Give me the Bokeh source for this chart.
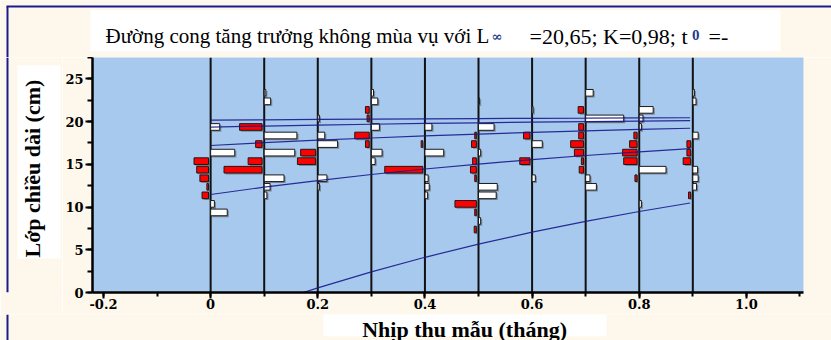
import math
from bokeh.plotting import figure
from bokeh.models import Range1d, FixedTicker
from bokeh.layouts import column, row
from bokeh.embed import file_html
from bokeh.resources import INLINE
from bokeh.core.properties import value

# ---------------- data ----------------
samples = [0.0, 0.1, 0.2, 0.3, 0.4, 0.5, 0.6, 0.7, 0.8, 0.9]
length_classes = [7, 8, 9, 10, 11, 12, 13, 14, 15, 16, 17, 18, 19, 20, 21, 22, 23]

# restructured scores per sample (one value per length class; negative = red, positive = white)
score_s00 = [0, 0, 0.31, 0.07, -0.12, -0.03, -0.16, -0.22, -0.27, 0.45, 0, 0, 0.17, 0, 0, 0, 0]
score_s01 = [0, 0, 0, 0, 0.05, 0.11, 0.37, -0.71, -0.26, 0.57, -0.12, 0.61, -0.42, 0, 0, 0.12, 0.03]
score_s02 = [0, 0, 0, 0, 0, 0.03, 0.17, 0, -0.34, -0.28, 0.37, 0.13, 0, 0.03, 0, 0, 0]
score_s03 = [0, 0, 0, 0, 0, 0, 0, 0, 0.07, 0.20, -0.07, -0.27, 0.15, -0.04, -0.07, 0.12, 0.04]
score_s04 = [0, 0, 0, 0, 0.05, 0.08, 0.06, -0.71, 0, 0.35, -0.03, 0, 0.13, 0, 0, 0, 0]
score_s05 = [-0.04, 0.04, -0.03, -0.40, 0.33, 0.35, -0.03, -0.11, -0.07, 0.04, -0.09, -0.03, 0.29, 0, 0, 0.02, 0]
score_s06 = [0, 0, 0, 0, 0, 0, 0.06, 0, -0.19, 0, 0.19, -0.12, 0, 0, 0.02, 0, 0]
score_s07 = [0, 0, 0, 0, 0, 0.20, 0.08, -0.08, -0.04, -0.17, -0.24, -0.09, -0.09, 0.71, -0.10, 0, 0.14]
score_s08 = [0, 0, 0, 0.04, 0, 0, -0.04, 0.50, -0.25, -0.27, -0.14, -0.06, 0.04, 0.07, 0.26, 0, 0]
score_s09 = [0, 0, 0, 0, -0.04, 0.07, 0.10, 0.09, -0.14, -0.07, -0.07, 0.10, 0, 0, 0, 0.06, 0.03]
all_scores = [score_s00, score_s01, score_s02, score_s03, score_s04,
              score_s05, score_s06, score_s07, score_s08, score_s09]

# growth curves (L_inf = 20.65, K = 0.98)
curve_t = [0.0, 0.1, 0.2, 0.3, 0.4, 0.5, 0.6, 0.7, 0.8, 0.895]
curve_1 = [20.17, 20.21, 20.25, 20.29, 20.32, 20.35, 20.38, 20.40, 20.43, 20.45]
curve_2 = [19.36, 19.48, 19.59, 19.69, 19.78, 19.86, 19.93, 20.00, 20.06, 20.11]
curve_3 = [17.20, 17.53, 17.82, 18.08, 18.32, 18.54, 18.74, 18.92, 19.08, 19.22]
curve_4 = [11.47, 12.33, 13.10, 13.81, 14.45, 15.03, 15.55, 16.03, 16.46, 16.83]
curve_5_t = [0.173, 0.2, 0.3, 0.4, 0.5, 0.6, 0.7, 0.8, 0.895]
curve_5 = [0.0, 0.54, 2.42, 4.12, 5.66, 7.06, 8.33, 9.48, 10.47]

x_ticks = [-0.2, 0.0, 0.2, 0.4, 0.6, 0.8, 1.0]
x_tick_labels = ["-0.2", "0", "0.2", "0.4", "0.6", "0.8", "1.0"]
y_ticks = [0, 5, 10, 15, 20, 25]

title_parts = ["Đường cong tăng trưởng không mùa vụ với L", "∞", "=20,65; K=0,98; t", "0", "=-"]
x_label = "Nhịp thu mẫu (tháng)"
y_label = "Lớp chiều dài (cm)"

# ---------------- style ----------------
CREAM = "#FEF8EC"
PLOT_BG = "#A7C9EE"
NAVY = "#1a1a8c"
SCALE = 0.1      # one score unit = one sampling interval
GAP = 0.004
BAR_OFF = 0.37
BAR_H = 0.78
W, H = 831, 340
TOP_H = 57
YLAB_W = 62
MAIN_H = 257
MAIN_BOTTOM = 22
XLAB_H = H - TOP_H - MAIN_H
TXT_SHIFT = 6   # correction of the text baseline placement


def decor(width, height, x0, y0, frame_h=None):
    fh = height if frame_h is None else frame_h
    f = figure(width=width, height=height, output_backend="svg", toolbar_location=None,
               x_range=Range1d(x0, x0 + width), y_range=Range1d(y0 + fh, y0),
               min_border=0, x_axis_location=None, y_axis_location=None)
    f.min_border_bottom = height - fh
    f.background_fill_color = CREAM
    f.border_fill_color = CREAM
    f.outline_line_color = None
    f.xgrid.visible = False
    f.ygrid.visible = False
    return f


# ---- title strip ----
top = decor(W, TOP_H, 0, 0)
top.segment(x0=[6], y0=[6], x1=[W], y1=[6], line_color=NAVY, line_width=2)
top.segment(x0=[7], y0=[6], x1=[7], y1=[TOP_H], line_color=NAVY, line_width=2)
top.quad(left=[90], right=[780], top=[9.5], bottom=[50.7], fill_color="white", line_color=None)
tx = [105, 491, 529, 691.5, 708]
ty = [41.7, 41.7, 41.7, 40.0, 41.7]
tfs = ["21px", "13px", "22px", "15px", "22px"]
tfont = ["Liberation Serif", "DejaVu Serif", "Liberation Serif", "Liberation Serif", "Liberation Serif"]
tst = ["normal", "bold", "normal", "bold", "normal"]
tcol = ["black", "#1f3a8f", "black", "#1f3a8f", "black"]
for t, x, y, fs, fn, st, col in zip(title_parts, tx, ty, tfs, tfont, tst, tcol):
    top.text(x=[x], y=[y - TXT_SHIFT], text=[t], text_font=value(fn), text_font_size=fs,
             text_font_style=st, text_color=col, text_baseline="alphabetic", text_align="left")

# ---- y label strip (its frame is aligned with the main plot frame) ----
ylab = decor(YLAB_W, MAIN_H, 0, TOP_H, frame_h=MAIN_H - MAIN_BOTTOM)
ylab.segment(x0=[7], y0=[TOP_H], x1=[7], y1=[TOP_H + MAIN_H - MAIN_BOTTOM], line_color=NAVY, line_width=2)
ylab.quad(left=[17], right=[60], top=[65], bottom=[258], fill_color="white", line_color=None)
ylab.text(x=[38.3 - TXT_SHIFT], y=[257], text=[y_label], angle=math.pi / 2,
          text_font=value("Liberation Serif"), text_font_size="22px", text_font_style="bold",
          text_color="black", text_align="left", text_baseline="alphabetic")

# ---- x label strip ----
xlab = decor(W, XLAB_H, 0, TOP_H + MAIN_H)
xlab.segment(x0=[7], y0=[TOP_H + MAIN_H], x1=[7], y1=[H], line_color=NAVY, line_width=2)
xlab.quad(left=[323], right=[606], top=[TOP_H + MAIN_H], bottom=[335.7], fill_color="white", line_color=None)
xlab.text(x=[361.7], y=[334.5 - TXT_SHIFT], text=[x_label],
          text_font=value("Liberation Serif"), text_font_size="22px", text_font_style="bold",
          text_color="black", text_align="left", text_baseline="alphabetic")

# ---- main plot ----
p = figure(width=W - YLAB_W, height=MAIN_H, output_backend="svg", toolbar_location=None,
           x_range=Range1d(-0.2205, 1.1066), y_range=Range1d(0, 27.5),
           min_border_left=29, min_border_right=28, min_border_top=0, min_border_bottom=MAIN_BOTTOM)
p.background_fill_color = PLOT_BG
p.border_fill_color = CREAM
p.outline_line_color = None
p.xgrid.visible = False
p.ygrid.visible = False

p.segment(x0=samples, y0=[0] * len(samples), x1=samples, y1=[27.5] * len(samples),
          line_color="#111111", line_width=2)

ys, lefts, rights, fills = [], [], [], []
for s, sc in zip(samples, all_scores):
    for c, v in zip(length_classes, sc):
        if v == 0:
            continue
        ys.append(c + BAR_OFF)
        if v > 0:
            lefts.append(s)
            rights.append(s + v * SCALE)
            fills.append("white")
        else:
            rights.append(s - GAP)
            lefts.append(s - GAP + v * SCALE)
            fills.append("#FF0000")

p.hbar(y=[y - 0.17 for y in ys], left=[l + 0.003 for l in lefts], right=[r + 0.003 for r in rights],
       height=BAR_H, fill_color="#555555", fill_alpha=0.55, line_color=None)
p.hbar(y=ys, left=lefts, right=rights, height=BAR_H, fill_color=fills,
       line_color="#1a1a1a", line_width=1)

for cv in [curve_1, curve_2, curve_3, curve_4]:
    p.line(curve_t, cv, line_color=NAVY, line_width=1.2, line_alpha=0.9)
p.line(curve_5_t, curve_5, line_color=NAVY, line_width=1.2, line_alpha=0.9)

p.xaxis.ticker = FixedTicker(ticks=x_ticks, minor_ticks=[round(-0.2 + 0.1 * i, 2) for i in range(14)])
p.xaxis.major_label_overrides = {t: l for t, l in zip(x_ticks, x_tick_labels)}
p.yaxis.ticker = FixedTicker(ticks=y_ticks, minor_ticks=[2.5 * i for i in range(12)])
for ax in (p.xaxis[0], p.yaxis[0]):
    ax.axis_line_color = "black"
    ax.axis_line_width = 2.5
    ax.major_tick_line_color = "black"
    ax.major_tick_line_width = 2
    ax.minor_tick_line_color = "black"
    ax.minor_tick_line_width = 2
    ax.major_tick_in = 0
    ax.minor_tick_in = 0
    ax.major_label_text_font = "DejaVu Serif"
    ax.major_label_text_font_style = "bold"
    ax.major_label_text_font_size = "13px"
    ax.major_label_text_color = "black"
p.xaxis.major_tick_out = 6
p.xaxis.minor_tick_out = 4
p.yaxis.major_tick_out = 7
p.yaxis.minor_tick_out = 5
p.xaxis.major_label_standoff = 0
p.yaxis.major_label_standoff = 2

layout = column(top, row(ylab, p), xlab)
open("out.html", "w").write(file_html(layout, INLINE))
